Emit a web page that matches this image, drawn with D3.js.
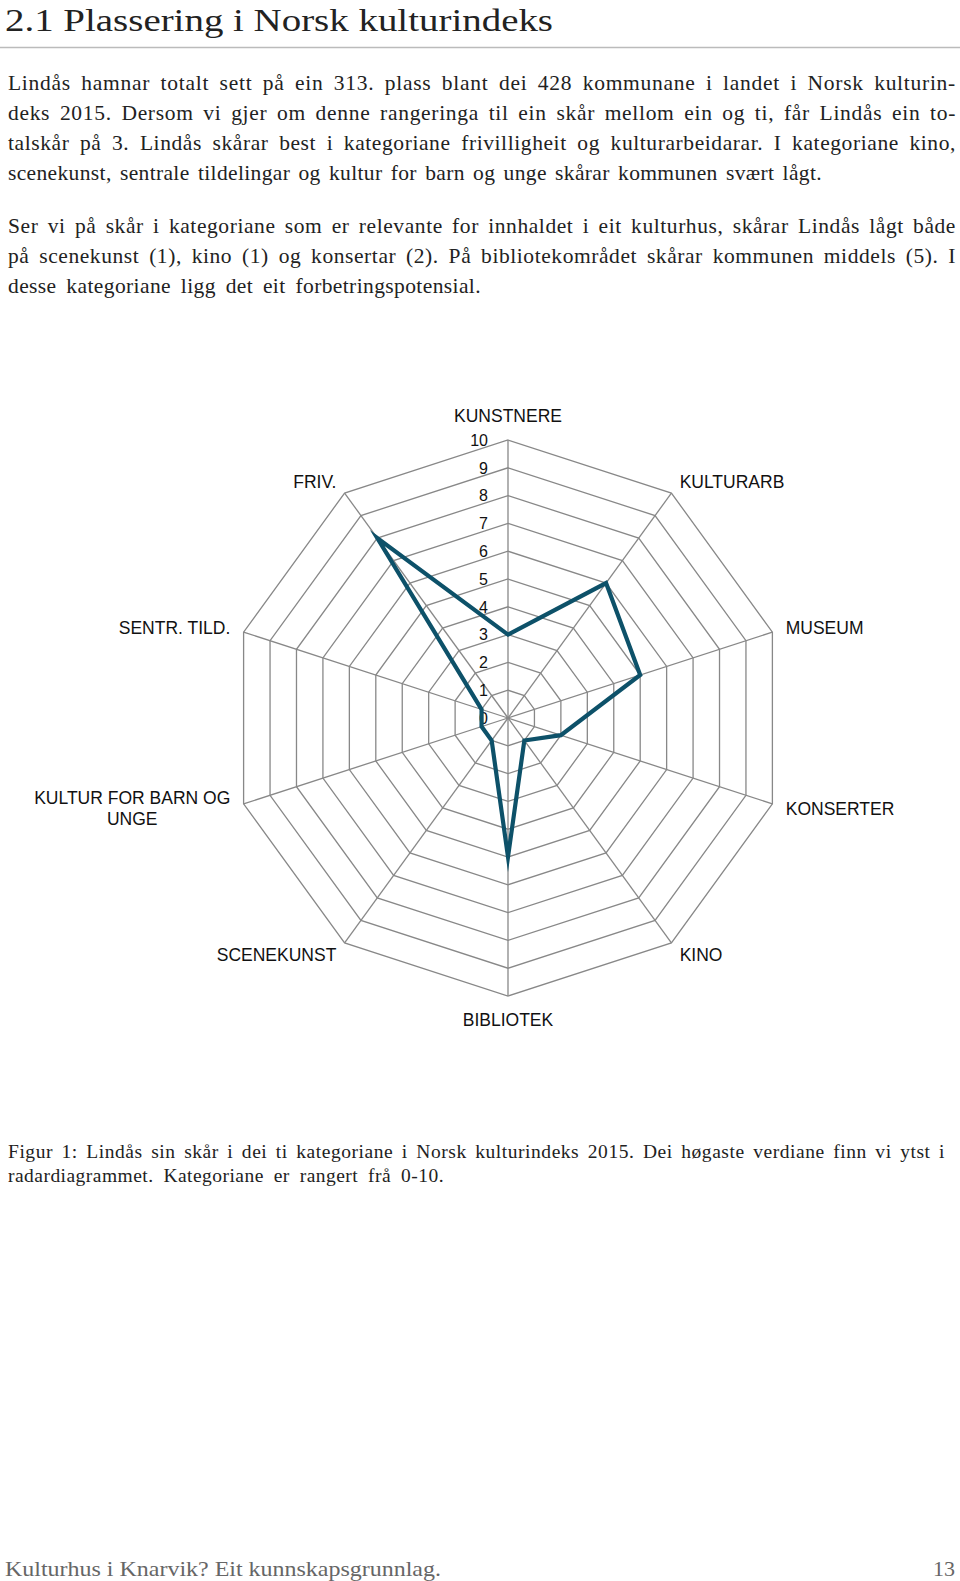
<!DOCTYPE html>
<html><head><meta charset="utf-8">
<script src="https://cdn.jsdelivr.net/npm/d3@7"></script>
<style>body{margin:0;background:#fff}</style>
</head><body>
<svg id="page" width="960" height="1581"></svg>
<script>
// ---- data ----
const categories = ["KUNSTNERE","KULTURARB","MUSEUM","KONSERTER","KINO","BIBLIOTEK","SCENEKUNST","KULTUR FOR BARN OG UNGE","SENTR. TILD.","FRIV."];
const scores = [3, 6, 5, 2, 1, 5, 1, 1, 1, 8];
const tickLabels = [0,1,2,3,4,5,6,7,8,9,10];
const levels = [1,2,3,4,5,6,7,8,9,10];

// ---- page text ----
const title = "2.1 Plassering i Norsk kulturindeks";
const bodyLines = [
  {t:"Lindås hamnar totalt sett på ein 313. plass blant dei 428 kommunane i landet i Norsk kulturin-", y:90, w:948},
  {t:"deks 2015. Dersom vi gjer om denne rangeringa til ein skår mellom ein og ti, får Lindås ein to-", y:120, w:948},
  {t:"talskår på 3. Lindås skårar best i kategoriane frivilligheit og kulturarbeidarar. I kategoriane kino,", y:150, w:948},
  {t:"scenekunst, sentrale tildelingar og kultur for barn og unge skårar kommunen svært lågt.", y:180, w:814},
  {t:"Ser vi på skår i kategoriane som er relevante for innhaldet i eit kulturhus, skårar Lindås lågt både", y:233, w:948},
  {t:"på scenekunst (1), kino (1) og konsertar (2). På bibliotekområdet skårar kommunen middels (5). I", y:263, w:948},
  {t:"desse kategoriane ligg det eit forbetringspotensial.", y:293, w:473}
];
const captionLines = [
  {t:"Figur 1: Lindås sin skår i dei ti kategoriane i Norsk kulturindeks 2015. Dei høgaste verdiane finn vi ytst i", y:1158, w:937},
  {t:"radardiagrammet. Kategoriane er rangert frå 0-10.", y:1182, w:436}
];

const svg = d3.select("#page");
const serif = "'Liberation Serif', 'DejaVu Serif', serif";
const sans = "'Liberation Sans', Arial, sans-serif";

function textBlock(lines, x, baseSize, maxSize, fill, cls) {
  const probe = svg.append("text").attr("font-family",serif).attr("font-size",baseSize);
  let ratio = 0;
  lines.forEach(l => { probe.text(l.t); ratio += l.w / probe.node().getComputedTextLength(); });
  probe.remove();
  ratio /= lines.length;
  const fs = Math.min(maxSize, baseSize * ratio * 0.985);
  svg.selectAll("text."+cls).data(lines).join("text").attr("class",cls)
    .attr("x",x).attr("y",d=>d.y).attr("font-family",serif).attr("font-size",fs).attr("fill",fill)
    .text(d=>d.t)
    .each(function(d){
      const nat = this.getComputedTextLength();
      const spaces = (d.t.match(/ /g)||[]).length;
      const extra = d.w - nat;
      const ls = 0.5*extra/d.t.length;
      const ws = (extra - ls*d.t.length)/Math.max(1,spaces);
      d3.select(this).attr("letter-spacing", ls).attr("word-spacing", ws);
    });
}

svg.append("text").attr("x",5).attr("y",31).attr("font-family",serif)
  .attr("font-size",32).attr("fill","#222").attr("textLength",548).attr("lengthAdjust","spacingAndGlyphs").text(title);
svg.append("line").attr("x1",0).attr("x2",960).attr("y1",47.5).attr("y2",47.5)
  .attr("stroke","#bbb").attr("stroke-width",1.5);

textBlock(bodyLines, 8, 20, 21.5, "#222", "body");
textBlock(captionLines, 8, 18, 19.5, "#222", "cap");

svg.append("text").attr("x",5).attr("y",1576).attr("font-family",serif).attr("font-size",22)
  .attr("fill","#666").attr("textLength",436).attr("lengthAdjust","spacingAndGlyphs").text("Kulturhus i Knarvik? Eit kunnskapsgrunnlag.");
svg.append("text").attr("x",955).attr("y",1576).attr("text-anchor","end").attr("font-family",serif)
  .attr("font-size",22).attr("fill","#666").text("13");

// ---- radar ----
const cx = 508, cy = 718, R = 278;
const r = d3.scaleLinear().domain([0,10]).range([0,R]);
const angle = d3.scaleLinear().domain([0, categories.length]).range([0, 2*Math.PI]);
const pt = (i, v) => [cx + r(v)*Math.sin(angle(i)), cy - r(v)*Math.cos(angle(i))];

const g = svg.append("g");
g.selectAll("path.level").data(levels).join("path").attr("class","level")
  .attr("d", lv => d3.line()(categories.map((c,i)=>pt(i,lv))) + "Z")
  .attr("fill","none").attr("stroke","#888").attr("stroke-width",1.3);
g.selectAll("line.spoke").data(categories).join("line").attr("class","spoke")
  .attr("x1",cx).attr("y1",cy)
  .attr("x2",(c,i)=>pt(i,10)[0]).attr("y2",(c,i)=>pt(i,10)[1])
  .attr("stroke","#888").attr("stroke-width",1.3);

g.selectAll("text.tick").data(tickLabels).join("text").attr("class","tick")
  .attr("x", cx-20).attr("y", d=>cy - r(d)).attr("dy","0.36em")
  .attr("text-anchor","end").attr("font-family",sans).attr("font-size",16).attr("fill","#111")
  .text(d=>d);

g.append("path")
  .attr("d", d3.line()(scores.map((v,i)=>pt(i,v))) + "Z")
  .attr("fill","none").attr("stroke","#0d5169").attr("stroke-width",4.2)
  .attr("stroke-linejoin","miter").attr("stroke-miterlimit",10);

categories.forEach((c,i)=>{
  const a = angle(i), s = Math.sin(a), co = Math.cos(a);
  let x, y, anchor;
  if (Math.abs(s) < 0.01) {
    x = cx; y = cy - (R+24)*co; anchor = "middle";
  } else {
    x = cx + (R+14)*s; y = cy - (R+14)*co; anchor = s > 0 ? "start" : "end";
  }
  const words = c === "KULTUR FOR BARN OG UNGE" ? ["KULTUR FOR BARN OG","UNGE"] : [c];
  const t = g.append("text").attr("font-family",sans).attr("font-size",17.5).attr("fill","#111");
  if (words.length === 1) {
    t.attr("x",x).attr("y",y).attr("dy","0.36em").attr("text-anchor",anchor).text(c);
  } else {
    const t1 = t.append("tspan").attr("x",x).attr("y",y-10.5).attr("dy","0.36em").attr("text-anchor","end").text(words[0]);
    const w = t1.node().getComputedTextLength();
    t.append("tspan").attr("x",x-w/2).attr("y",y+10.5).attr("dy","0.36em").attr("text-anchor","middle").text(words[1]);
  }
});
</script>
</body></html>
